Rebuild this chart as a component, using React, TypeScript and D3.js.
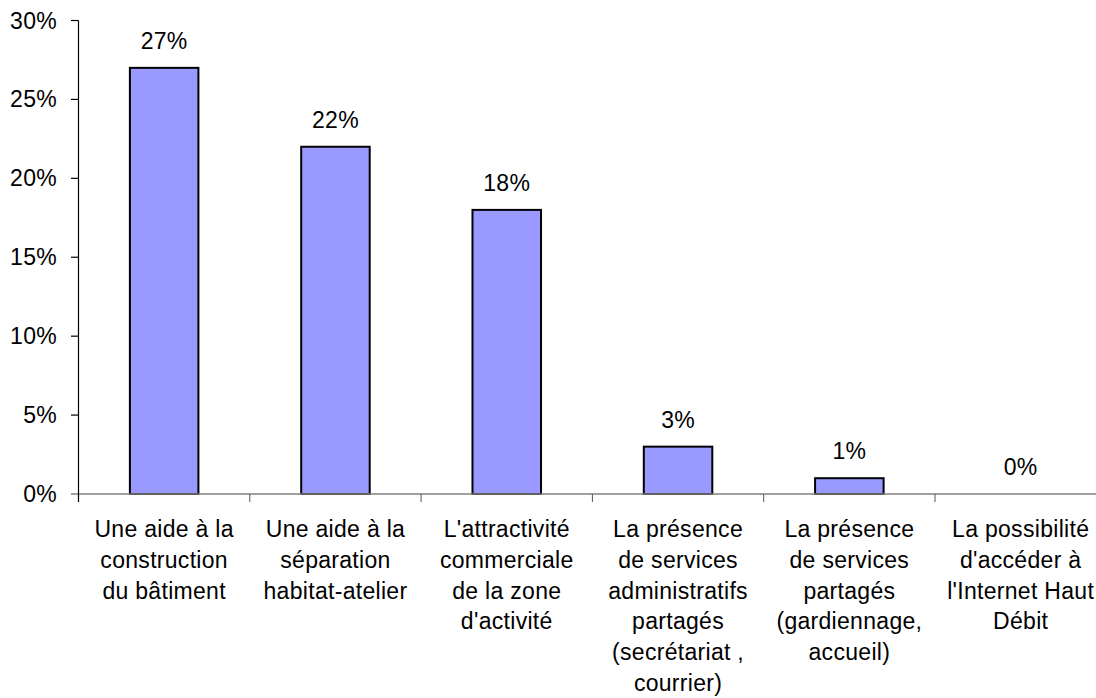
import React from "react";
import * as d3 from "d3";

// Share of respondents citing each factor
const categories: string[][] = [
  ["Une aide à la", "construction", "du bâtiment"],
  ["Une aide à la", "séparation", "habitat-atelier"],
  ["L'attractivité", "commerciale", "de la zone", "d'activité"],
  ["La présence", "de services", "administratifs", "partagés", "(secrétariat ,", "courrier)"],
  ["La présence", "de services", "partagés", "(gardiennage,", "accueil)"],
  ["La possibilité", "d'accéder à", "l'Internet Haut", "Débit"],
];
const values: number[] = [0.27, 0.22, 0.18, 0.03, 0.01, 0];
const yTicks: number[] = [0, 0.05, 0.1, 0.15, 0.2, 0.25, 0.3];

const W = 1096;
const H = 698;
const FONT = "'Liberation Sans', Arial, Helvetica, sans-serif";
const FS = 23;
const LS = 0.3;

export default function App() {
  const left = 78.5;
  const step = 171.3;
  const ids = categories.map((_, i) => String(i));
  const x = d3
    .scaleBand<string>()
    .domain(ids)
    .range([left, left + step * ids.length])
    .paddingInner(0.6)
    .paddingOuter(0.3);
  const xOuter = d3.scaleBand<string>().domain(ids).range([left, left + step * ids.length]);
  const y = d3.scaleLinear().domain([0, 0.3]).range([494, 20.5]);
  const fmt = d3.format(".0%");

  return (
    <svg
      width={W}
      height={H}
      style={{ position: "absolute", left: 0, top: 0, background: "#fff" }}
      fontFamily={FONT}
    >
      {/* bars */}
      {values.map((v, i) =>
        v > 0 ? (
          <rect
            key={"b" + i}
            x={x(ids[i])!}
            y={y(v)}
            width={x.bandwidth()}
            height={y(0) - y(v)}
            fill="#9999FF"
            stroke="#000"
            strokeWidth={2}
          />
        ) : null
      )}

      {/* x axis */}
      <line x1={71} x2={W} y1={y(0)} y2={y(0)} stroke="#808080" strokeWidth={1.5} />
      {ids.map((id, i) => (
        <line
          key={"xt" + i}
          x1={xOuter(id)!}
          x2={xOuter(id)!}
          y1={y(0)}
          y2={y(0) + 8}
          stroke="#555"
          strokeWidth={1}
        />
      ))}

      {/* y axis */}
      <line x1={left} x2={left} y1={y(0.3)} y2={y(0) + 8} stroke="#000" strokeWidth={1.2} />
      {yTicks.map((t) => (
        <g key={"yt" + t}>
          {t > 0 && (
            <line x1={71} x2={left} y1={y(t)} y2={y(t)} stroke="#000" strokeWidth={1.2} />
          )}
          <text
            x={57}
            y={y(t)}
            dy="0.35em"
            textAnchor="end"
            fontSize={FS}
            letterSpacing={LS}
            fill="#000"
          >
            {fmt(t)}
          </text>
        </g>
      ))}

      {/* value labels */}
      {values.map((v, i) => (
        <text
          key={"v" + i}
          x={x(ids[i])! + x.bandwidth() / 2}
          y={y(v) - 19}
          textAnchor="middle"
          fontSize={FS}
          letterSpacing={LS}
          fill="#000"
        >
          {fmt(v)}
        </text>
      ))}

      {/* category labels */}
      {categories.map((lines, i) => (
        <text
          key={"c" + i}
          x={xOuter(ids[i])! + xOuter.bandwidth() / 2}
          y={537}
          textAnchor="middle"
          fontSize={FS}
          letterSpacing={LS}
          fill="#000"
        >
          {lines.map((ln, j) => (
            <tspan key={j} x={xOuter(ids[i])! + xOuter.bandwidth() / 2} y={537 + j * 30.8}>
              {ln}
            </tspan>
          ))}
        </text>
      ))}
    </svg>
  );
}
